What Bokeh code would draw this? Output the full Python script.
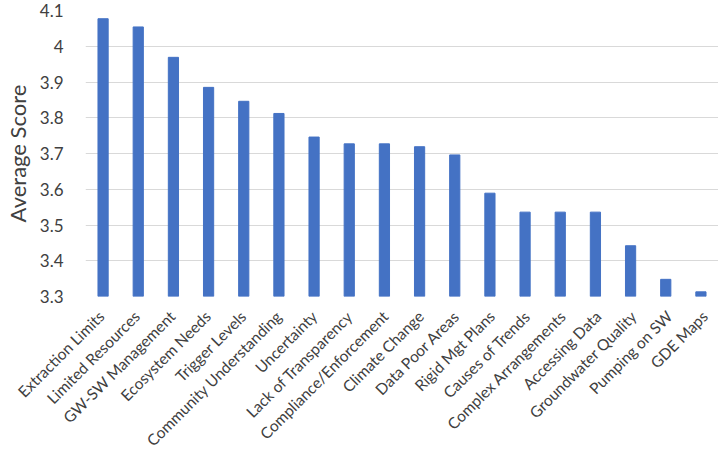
from bokeh.plotting import figure
from bokeh.layouts import column
from bokeh.models import FixedTicker, Range1d, ColumnDataSource
from bokeh.core.properties import value
from bokeh.embed import file_html
from bokeh.resources import INLINE

categories = ["Extraction Limits", "Limited Resources", "GW-SW Management", "Ecosystem Needs",
              "Trigger Levels", "Community Understanding", "Uncertainty", "Lack of Transparency",
              "Compliance/Enforcement", "Climate Change", "Data Poor Areas", "Rigid Mgt Plans",
              "Causes of Trends", "Complex Arrangements", "Accessing Data", "Groundwater Quality",
              "Pumping on SW", "GDE Maps"]
scores = [4.077, 4.054, 3.969, 3.885, 3.846, 3.812, 3.746, 3.727, 3.727, 3.719, 3.696,
          3.589, 3.536, 3.536, 3.536, 3.442, 3.348, 3.313]
yticks = [3.3, 3.4, 3.5, 3.6, 3.7, 3.8, 3.9, 4.0, 4.1]
ytick_labels = ["3.3", "3.4", "3.5", "3.6", "3.7", "3.8", "3.9", "4", "4.1"]

FONT = "Lato"
TEXT_COLOR = "#404040"
W = 718
LEFT = 79          # left border of the plot frame (px)
TOP_H = 307        # height of the bar figure
BOT_H = 143        # height of the label strip
N = len(categories)

src = ColumnDataSource(dict(cat=categories, score=scores, base=[yticks[0]] * N))

p = figure(x_range=categories, width=W, height=TOP_H, output_backend="svg",
           toolbar_location=None, x_axis_location=None, title=None,
           min_border_left=LEFT, min_border_right=0,
           min_border_top=10, min_border_bottom=11)
p.frame_align = False
p.y_range = Range1d(yticks[0], yticks[-1])
p.vbar(x="cat", top="score", bottom="base", width=0.29, color="#4472C4", source=src)

p.outline_line_color = None
p.xgrid.grid_line_color = None
p.ygrid.grid_line_color = "#d9d9d9"
p.ygrid.grid_line_width = 1

p.yaxis.ticker = FixedTicker(ticks=yticks)
p.yaxis.major_label_overrides = {t: l for t, l in zip(yticks, ytick_labels)}
p.yaxis.axis_line_color = None
p.yaxis.major_tick_line_color = None
p.yaxis.minor_tick_line_color = None
p.yaxis.major_label_text_font = FONT
p.yaxis.major_label_text_font_size = "17px"
p.yaxis.major_label_text_color = TEXT_COLOR
p.yaxis.major_label_standoff = 16
p.yaxis.axis_label = "Average Score"
p.yaxis.axis_label_text_font = FONT
p.yaxis.axis_label_text_font_style = "normal"
p.yaxis.axis_label_text_font_size = "22px"
p.yaxis.axis_label_text_color = TEXT_COLOR
p.yaxis.axis_label_standoff = 6

# label strip under the bars, sharing the same horizontal scale
scale = (W - LEFT) / N
q = figure(width=W, height=BOT_H, output_backend="svg", toolbar_location=None,
           x_range=Range1d(-LEFT / scale, N), y_range=Range1d(0, BOT_H), title=None,
           x_axis_location=None, y_axis_location=None,
           min_border_left=0, min_border_right=0, min_border_top=0, min_border_bottom=0)
q.frame_align = False
q.grid.visible = False
q.outline_line_color = None
lab = ColumnDataSource(dict(x=[i + 0.5 for i in range(N)], y=[BOT_H - 6] * N, t=categories))
q.text(x="x", y="y", text="t", source=lab, angle=0.785398, x_offset=4,
       text_align="right", text_baseline="middle", text_font=value(FONT),
       text_font_size="15.5px", text_color=TEXT_COLOR)

layout = column(p, q, spacing=0)
open("out.html", "w").write(file_html(layout, INLINE))
